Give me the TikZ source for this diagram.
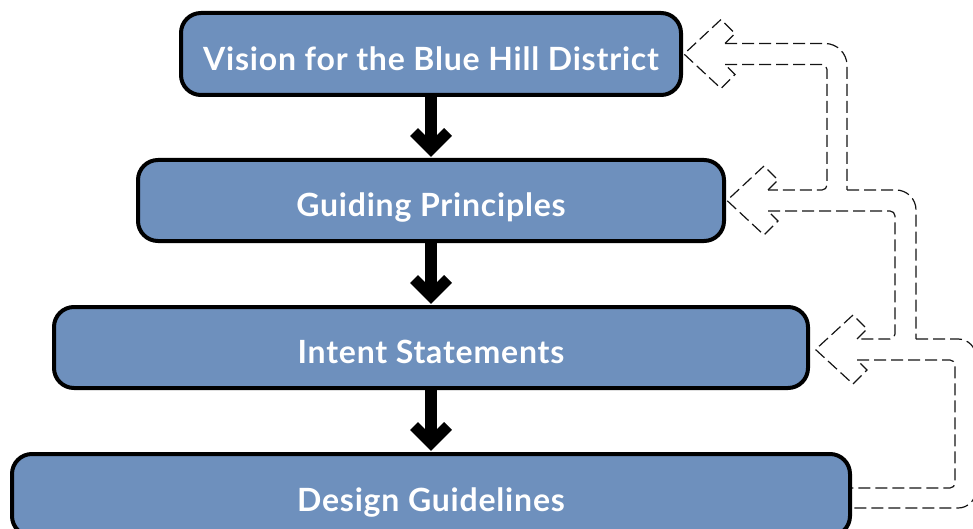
\documentclass[tikz,border=0pt]{standalone}
\usepackage{fontspec}
\newfontfamily\boxfont{Lato}[LetterSpace=2.5]
\usetikzlibrary{calc}
\definecolor{boxblue}{RGB}{110,144,189}
\definecolor{dashgray}{RGB}{20,20,20}
\tikzset{
  stagebox/.style={draw=black, line width=4pt, fill=boxblue, rounded corners=20pt,
    inner sep=0pt, outer sep=0pt, text=white, font=\boxfont\bfseries\fontsize{32}{36}\selectfont,
    text height=32.5pt, text depth=0pt, align=center},
  shaft/.style={line width=12pt, black},
  chevron/.style={line width=11pt, black, line join=miter},
  dline/.style={draw=dashgray, line width=1.2pt, dash pattern=on 12pt off 5pt},
}
\begin{document}
\begin{tikzpicture}[x=1pt,y=-1pt]
\useasboundingbox (0,0) rectangle (973,529);

% dashed feedback outline (drawn first, boxes on top)
\coordinate (t1) at (684,54);
\coordinate (t2) at (727,200.5);
\coordinate (t3) at (815.5,349.5);

% heads
\draw[dline] (725,43.5) -- (735,33.5) -- (721,19.5) -- (t1) -- (721,88.5) -- (735,74.5) -- (725,64.5);
\draw[dline] ($(t2)+(41,-10.5)$) -- ($(t2)+(51,-20.5)$) -- ($(t2)+(37,-34.5)$) -- (t2)
   -- ($(t2)+(37,34.5)$) -- ($(t2)+(51,20.5)$) -- ($(t2)+(41,10.5)$);
\draw[dline] ($(t3)+(41.5,-10.5)$) -- ($(t3)+(51.5,-20.5)$) -- ($(t3)+(37.5,-34.5)$) -- (t3)
   -- ($(t3)+(37.5,34.5)$) -- ($(t3)+(51.5,20.5)$) -- ($(t3)+(41.5,10.5)$);

% outer line
\draw[dline, rounded corners=22pt] (725,43.5) -- (847,43.5) -- (847,190);
\draw[dline, rounded corners=20pt] (847,190) -- (916,190) -- (916,339);
\draw[dline, rounded corners=18pt] (916,339) -- (976,339) -- (976,508) -- (845,508);

% inner line
\draw[dline, rounded corners=5pt] (725,64.5) -- (827,64.5) -- (827,190) -- (768,190);
\draw[dline, rounded corners=5pt] (768,211) -- (895,211) -- (895,339) -- (857,339);
\draw[dline, rounded corners=5pt] (857,360) -- (955,360) -- (955,488) -- (845,488);

% boxes
\node[stagebox, minimum width=500pt, minimum height=82pt] (b1) at (431,54) {Vision for the Blue Hill District};
\node[stagebox, minimum width=586pt, minimum height=81pt] (b2) at (431,200.5) {Guiding Principles};
\node[stagebox, minimum width=754pt, minimum height=81pt] (b3) at (431,347.5) {Intent Statements};
\node[stagebox, minimum width=838pt, minimum height=82pt] (b4) at (431,495) {Design Guidelines};

% solid arrows
\foreach \a/\b in {b1/b2, b2/b3, b3/b4}{
  \draw[shaft] (\a.south) -- ($(\b.north)+(0,-12)$);
  \draw[chevron] ($(\b.north)+(-17,-28)$) -- ($(\b.north)+(0,-11)$) -- ($(\b.north)+(17,-28)$);
}
\end{tikzpicture}
\end{document}
